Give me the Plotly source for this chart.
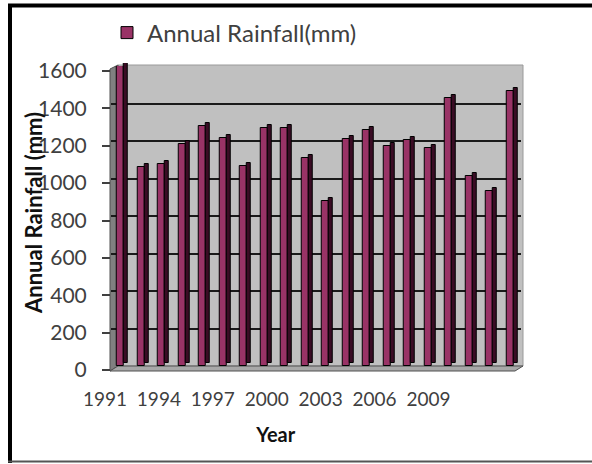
import plotly.graph_objects as go

W, H = 592, 464

# Annual rainfall series
years = list(range(1991, 2011))
rainfall_mm = [1600, 1060, 1080, 1185, 1280, 1215, 1065, 1270, 1270, 1110,
               880, 1210, 1260, 1175, 1205, 1165, 1430, 1015, 935, 1465]
label_years = list(range(1991, 2010, 3))
y_ticks = list(range(0, 1601, 200))

FONT = "Lato"
PLUM = "#993366"
PLUM_SIDE = "#3a0c24"
WALL = "#c0c0c0"
SIDE_WALL = "#808080"
TEXT = "#404040"


def px(x):
    return x / W


def py(y):
    return 1 - y / H


fig = go.Figure()

# dark side face of each column, lifted slightly for depth
fig.add_trace(go.Bar(
    x=years, y=rainfall_mm, xaxis="x", yaxis="y3",
    width=0.2, offset=0.14,
    marker=dict(color=PLUM_SIDE, line=dict(color="black", width=1)),
    showlegend=False, hoverinfo="skip",
))
# front face of each column
fig.add_trace(go.Bar(
    x=years, y=rainfall_mm, xaxis="x", yaxis="y2",
    name="Annual Rainfall(mm)",
    width=0.34, offset=-0.2,
    marker=dict(color=PLUM, line=dict(color="black", width=1)),
))
# carrier for the labelled value / year axes
fig.add_trace(go.Scatter(
    x=[], y=[], xaxis="x2", yaxis="y", mode="markers",
    showlegend=False, hoverinfo="skip",
))

shapes = [
    # back wall
    dict(type="rect", xref="paper", yref="paper", layer="below",
         x0=px(118), x1=px(523), y0=py(366), y1=py(65),
         fillcolor=WALL, line=dict(color="#9a9a9a", width=1)),
    # left side wall
    dict(type="path", xref="paper", yref="paper", layer="below",
         path=f"M {px(110)} {py(69)} L {px(118)} {py(65)} L {px(118)} {py(366)} L {px(110)} {py(371)} Z",
         fillcolor=SIDE_WALL, line=dict(color="#505050", width=1)),
    # floor
    dict(type="path", xref="paper", yref="paper", layer="below",
         path=f"M {px(118)} {py(366)} L {px(523)} {py(366)} L {px(515)} {py(371)} L {px(110)} {py(371)} Z",
         fillcolor="#a8a8a8", line=dict(color="#505050", width=1)),
    # outer frame
    dict(type="line", xref="paper", yref="paper",
         x0=px(10), x1=px(10), y0=py(4), y1=py(463),
         line=dict(color="black", width=4)),
    dict(type="line", xref="paper", yref="paper",
         x0=px(8), x1=px(600), y0=py(5.5), y1=py(5.5),
         line=dict(color="black", width=4)),
    dict(type="line", xref="paper", yref="paper",
         x0=px(8), x1=px(600), y0=py(461.5), y1=py(461.5),
         line=dict(color="#555555", width=2)),
]

annotations = [
    # value-axis title
    dict(text="<b>Annual Rainfall (mm)</b>", textangle=-90,
         xref="paper", yref="paper", x=px(33), y=py(213),
         xanchor="center", yanchor="middle", showarrow=False,
         font=dict(family=FONT, size=22, color="#111111")),
]

fig.update_layout(
    width=W, height=H,
    margin=dict(l=0, r=0, t=0, b=0, autoexpand=False),
    paper_bgcolor="white",
    plot_bgcolor="rgba(0,0,0,0)",
    font=dict(family=FONT, size=19, color=TEXT),
    bargap=0,
    shapes=shapes,
    annotations=annotations,
    showlegend=True,
    legend=dict(x=px(107), y=py(33), xanchor="left", yanchor="middle",
                bgcolor="rgba(0,0,0,0)", font=dict(family=FONT, size=24, color=TEXT)),
    # column axes
    xaxis=dict(domain=[px(110.75), px(520.75)], range=[1990.5, 2010.5],
               anchor="y2", visible=False),
    yaxis2=dict(domain=[py(366), py(66)], range=[0, 1600], anchor="x",
                tickvals=y_ticks, showticklabels=False, ticks="",
                showgrid=True, gridcolor="#1a1a1a", gridwidth=1.5,
                zeroline=False, showline=False),
    yaxis3=dict(domain=[py(363), py(63)], range=[0, 1600], anchor="x",
                visible=False),
    # labelled axes
    yaxis=dict(domain=[py(370), py(71)], range=[0, 1600], anchor="free",
               position=px(110), tickvals=y_ticks, ticks="outside", ticklen=8,
               tickcolor=TEXT, tickwidth=1.5, showgrid=False, zeroline=False,
               showline=False, ticklabelstandoff=11,
               tickfont=dict(family=FONT, size=21, color=TEXT)),
    xaxis2=dict(domain=[px(96), px(455.4)], range=[1990.5, 2010.5], anchor="y",
                tickvals=label_years, ticks="", showgrid=False, zeroline=False,
                showline=False, ticklabelstandoff=16,
                tickfont=dict(family=FONT, size=19, color=TEXT),
                title=dict(text="<b>Year</b>", standoff=18,
                           font=dict(family=FONT, size=20, color="#111111"))),
)

fig.write_html("out.html")
